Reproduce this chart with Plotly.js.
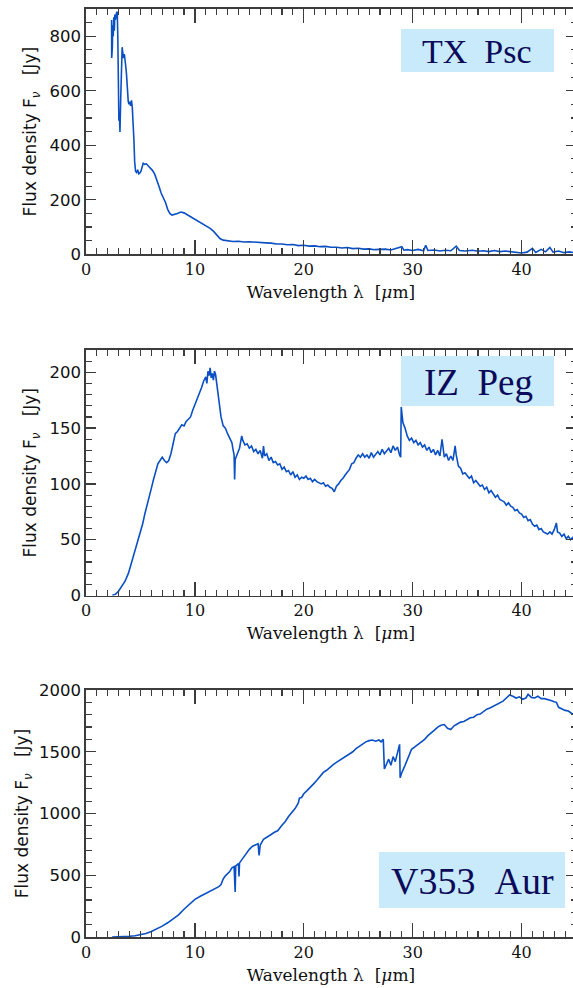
<!DOCTYPE html>
<html>
<head>
<meta charset="utf-8">
<script src="https://cdn.plot.ly/plotly-3.0.1.min.js"></script>
<style>
html,body{margin:0;padding:0;overflow:hidden;background:#fff;}
#chart{width:580px;height:988px;}
</style>
</head>
<body>
<div id="chart"></div>
<script>
// ---------------- DATA ----------------
const starNames = ["TX\u00a0\u00a0Psc", "IZ\u00a0\u00a0Peg", "V353\u00a0\u00a0Aur"];

const txWave = [2.35,2.36,2.38,2.42,2.46,2.5,2.55,2.6,2.65,2.7,2.8,2.87,2.92,2.97,3.02,3.07,3.12,3.18,3.25,3.32,3.38,3.45,3.52,3.58,3.65,3.72,3.8,3.88,3.95,4.02,4.1,4.18,4.25,4.32,4.4,4.47,4.55,4.65,4.75,4.85,4.95,5.05,5.15,5.25,5.4,5.55,5.7,5.9,6.1,6.3,6.5,6.7,6.9,7.1,7.3,7.5,7.7,7.9,8.1,8.4,8.7,9.0,9.3,9.6,9.9,10.2,10.5,10.8,11.1,11.4,11.7,12.0,12.3,12.6,13.0,13.5,14.0,14.5,15.0,15.5,16.0,16.5,17.0,17.5,18.0,18.5,19.0,19.5,20.0,20.5,21.0,21.5,22.0,22.5,23.0,23.5,24.0,24.5,25.0,25.5,26.0,26.5,27.0,27.5,28.0,28.5,29.0,29.2,29.5,30.0,30.5,31.0,31.2,31.4,32.0,32.5,33.0,33.5,34.0,34.3,34.8,35.5,36.0,36.5,37.0,37.5,38.0,38.5,39.0,39.5,40.0,40.5,41.0,41.3,41.8,42.2,42.6,42.9,43.4,43.9,44.4,45.0];
const txFlux = [860,720,860,760,840,800,870,820,880,860,885,890,800,600,490,510,449,560,700,760,740,720,735,700,690,660,600,560,550,560,545,565,540,500,420,340,305,300,310,295,298,305,325,334,330,332,325,318,308,295,275,250,225,210,190,165,150,144,146,150,155,152,145,138,132,124,118,110,102,95,85,72,58,52,50,47,48,45,46,44,43,42,41,38,38,35,36,32,33,30,31,28,29,26,26,23,25,21,22,19,20,17,18,19,16,21,28,15,17,14,18,13,33,14,16,12,15,13,30,14,12,15,11,13,10,14,10,12,9,8,5,8,22,7,18,9,25,8,12,6,9,5];

const izWave = [2.4,2.7,3.0,3.3,3.6,3.9,4.2,4.5,4.8,5.0,5.2,5.4,5.6,5.8,6.0,6.2,6.4,6.6,6.8,7.0,7.2,7.4,7.6,7.8,8.0,8.2,8.4,8.6,8.8,9.0,9.2,9.4,9.6,9.8,10.0,10.2,10.4,10.6,10.8,11.0,11.1,11.2,11.3,11.4,11.5,11.6,11.7,11.8,11.9,12.0,12.1,12.2,12.3,12.4,12.6,12.8,13.0,13.2,13.4,13.5,13.6,13.65,13.7,13.9,14.1,14.3,14.4,14.6,14.8,15.0,15.2,15.4,15.6,15.8,16.0,16.2,16.3,16.4,16.6,16.8,17.0,17.2,17.4,17.6,17.8,18.0,18.2,18.4,18.6,18.8,19.0,19.2,19.4,19.6,19.8,20.0,20.2,20.4,20.6,20.8,21.0,21.2,21.4,21.6,21.8,22.0,22.2,22.4,22.6,22.8,23.0,23.2,23.4,23.6,23.8,24.0,24.2,24.4,24.6,24.8,25.0,25.2,25.4,25.6,25.8,26.0,26.2,26.4,26.6,26.8,27.0,27.2,27.4,27.6,27.8,28.0,28.2,28.4,28.6,28.8,28.9,28.95,29.1,29.3,29.5,29.7,29.9,30.1,30.3,30.5,30.7,30.9,31.1,31.3,31.5,31.7,31.9,32.1,32.3,32.5,32.7,32.9,33.1,33.3,33.5,33.7,33.9,34.0,34.2,34.4,34.6,34.8,35.0,35.2,35.4,35.6,35.8,36.0,36.2,36.4,36.6,36.8,37.0,37.2,37.4,37.6,37.8,38.0,38.2,38.4,38.6,38.8,39.0,39.2,39.4,39.6,39.8,40.0,40.2,40.4,40.6,40.8,41.0,41.2,41.4,41.6,41.8,42.0,42.2,42.4,42.6,42.8,43.0,43.2,43.3,43.5,43.7,43.9,44.1,44.3,44.5,44.7,45.0];
const izFlux = [0,1,4,8,13,20,30,41,50,57,64,73,80,88,96,104,112,118,121,124,121,119,121,127,136,145,147,150,153,152,156,158,160,166,171,175,180,186,192,196,190,201,197,204,195,199,193,201,198,190,183,176,165,160,152,150,145,141,137,131,126,104,122,127,132,143,139,135,136,132,134,129,131,127,130,123,134,125,127,121,124,119,120,117,118,113,115,111,112,108,111,106,108,104,106,105,107,104,105,102,104,102,101,100,101,98,99,97,96,93,98,100,103,105,108,111,113,118,119,123,126,124,127,124,126,123,128,124,127,129,126,131,127,130,132,128,134,130,133,126,124,169,155,150,143,139,141,137,139,135,137,133,135,130,133,128,131,126,130,125,140,124,127,121,125,121,134,126,116,114,109,110,107,105,107,101,103,100,98,99,95,97,92,94,91,88,90,86,85,84,81,83,80,79,76,77,74,73,70,71,67,68,64,62,63,59,60,57,56,55,57,55,59,65,57,56,53,55,51,53,50,52,49];

const vaWave = [2.4,3.0,3.5,4.0,4.5,5.0,5.5,6.0,6.5,7.0,7.5,8.0,8.5,9.0,9.5,10.0,10.5,11.0,11.5,12.0,12.2,12.4,12.6,12.8,13.0,13.2,13.4,13.6,13.7,13.75,14.0,14.05,14.1,14.4,14.7,15.0,15.3,15.6,15.8,15.9,16.0,16.3,16.6,17.0,17.3,17.6,18.0,18.3,18.6,18.9,19.2,19.5,19.6,19.8,20.0,20.3,20.6,20.9,21.2,21.5,21.8,22.1,22.4,22.7,23.0,23.3,23.6,23.9,24.2,24.5,24.8,25.1,25.4,25.7,26.0,26.3,26.6,26.9,27.1,27.3,27.4,27.6,27.8,28.0,28.2,28.4,28.6,28.8,28.85,29.0,29.3,29.6,29.9,30.2,30.5,30.8,31.1,31.4,31.7,32.0,32.3,32.6,32.9,33.2,33.5,33.8,34.1,34.4,34.7,35.0,35.3,35.6,35.9,36.2,36.5,36.8,37.1,37.4,37.7,38.0,38.3,38.6,38.9,39.2,39.5,39.8,40.1,40.4,40.6,40.9,41.2,41.5,41.8,42.1,42.4,42.7,43.0,43.2,43.4,43.7,44.0,44.3,44.6,45.0];
const vaFlux = [0,1,3,6,10,16,28,45,66,88,115,145,180,225,268,305,330,352,378,398,408,425,470,495,515,530,560,570,365,575,594,490,600,640,675,710,735,745,755,660,745,790,810,830,848,860,905,935,975,1005,1040,1085,1125,1130,1160,1185,1210,1240,1270,1300,1333,1350,1375,1395,1414,1430,1450,1465,1481,1500,1525,1545,1560,1580,1590,1595,1585,1595,1580,1600,1360,1400,1440,1390,1460,1420,1500,1560,1290,1330,1390,1460,1520,1540,1560,1575,1600,1630,1650,1675,1700,1715,1720,1690,1680,1710,1725,1740,1745,1760,1775,1780,1800,1805,1825,1845,1855,1870,1885,1900,1910,1935,1960,1950,1935,1945,1925,1935,1965,1940,1935,1950,1930,1930,1925,1915,1905,1900,1860,1845,1835,1830,1810,1800];

const xTickVals = [0, 10, 20, 30, 40];
const yTickTop = [0, 200, 400, 600, 800];
const yTickMid = [0, 50, 100, 150, 200];
const yTickBot = [0, 500, 1000, 1500, 2000];

// ---------------- STYLE / LAYOUT ----------------
const W = 580, H = 988;
const lineColor = '#0a50c4';
const axColor = '#3c3c3c';
const xDom = [86 / W, 576 / W];
function yd(top, bottom) { return [1 - bottom / H, 1 - top / H]; }

const traces = [
  {x: txWave, y: txFlux, xaxis: 'x', yaxis: 'y'},
  {x: izWave, y: izFlux, xaxis: 'x2', yaxis: 'y2'},
  {x: vaWave, y: vaFlux, xaxis: 'x3', yaxis: 'y3'}
].map(t => Object.assign(t, {type: 'scatter', mode: 'lines', line: {color: lineColor, width: 1.6}, hoverinfo: 'skip', showlegend: false}));

const serif = 'DejaVu Serif, Liberation Serif, serif';
const sans = 'DejaVu Sans, Liberation Sans, sans-serif';
const xTitle = {text: 'Wavelength λ\u00a0\u00a0[<i>μ</i>m]', font: {family: serif, size: 17, color: '#111'}, standoff: 8};
const yTitle = {text: 'Flux density F<sub><i>ν</i></sub>\u00a0\u00a0\u00a0[Jy]', font: {family: sans, size: 17, color: '#111'}};

function xAxis(anchor) {
  return {
    domain: xDom, range: [0, 45], anchor: anchor,
    tickvals: xTickVals, ticks: 'inside', ticklen: 14, tickwidth: 1.3, tickcolor: axColor,
    minor: {dtick: 1, ticklen: 6, tickwidth: 1.1, tickcolor: axColor, ticks: 'inside'},
    showline: true, linecolor: axColor, linewidth: 1.6, mirror: 'allticks',
    showgrid: false, zeroline: false,
    tickfont: {family: serif, size: 16, color: '#111'},
    title: xTitle, fixedrange: true
  };
}
function yAxis(anchor, dom, range, vals, minorDt, standoff) {
  return {
    domain: dom, range: range, anchor: anchor,
    tickvals: vals, ticks: 'inside', ticklen: 10, tickwidth: 1.3, tickcolor: axColor,
    minor: {dtick: minorDt, ticklen: 5.5, tickwidth: 1.1, tickcolor: axColor, ticks: 'inside'},
    showline: true, linecolor: axColor, linewidth: 1.6, mirror: 'allticks',
    showgrid: false, zeroline: false,
    tickfont: {family: sans, size: 16.5, color: '#111'},
    title: Object.assign({}, yTitle, {standoff: standoff}), fixedrange: true
  };
}

const boxColor = '#c8eafb';
const txtColor = '#0b0b5a';
function box(x0, y0, x1, y1) {
  return {type: 'rect', xref: 'paper', yref: 'paper', x0: x0 / W, x1: x1 / W, y0: 1 - y1 / H, y1: 1 - y0 / H,
          fillcolor: boxColor, line: {width: 0}, layer: 'above'};
}
function label(text, cx, cy, size) {
  return {text: text, xref: 'paper', yref: 'paper', x: cx / W, y: 1 - cy / H, xanchor: 'center', yanchor: 'middle',
          showarrow: false, font: {family: 'Liberation Serif, Times New Roman, serif', size: size, color: txtColor}};
}

const layout = {
  width: W, height: H,
  margin: {l: 0, r: 0, t: 0, b: 0},
  paper_bgcolor: '#fff', plot_bgcolor: '#fff',
  xaxis: xAxis('y'),
  yaxis: yAxis('x', yd(9, 254.3), [0, 900], yTickTop, 50, 8),
  xaxis2: xAxis('y2'),
  yaxis2: yAxis('x2', yd(350, 595.5), [0, 220], yTickMid, 10, 8),
  xaxis3: xAxis('y3'),
  yaxis3: yAxis('x3', yd(690, 937), [0, 2000], yTickBot, 100, 6),
  shapes: [box(401, 29, 554, 72), box(401, 356, 554, 406), box(379, 852, 565, 908)],
  annotations: [label(starNames[0], 477, 51, 34), label(starNames[1], 478, 382, 37), label(starNames[2], 472, 881, 38)]
};

Plotly.newPlot('chart', traces, layout, {staticPlot: true, displayModeBar: false});
</script>
</body>
</html>
